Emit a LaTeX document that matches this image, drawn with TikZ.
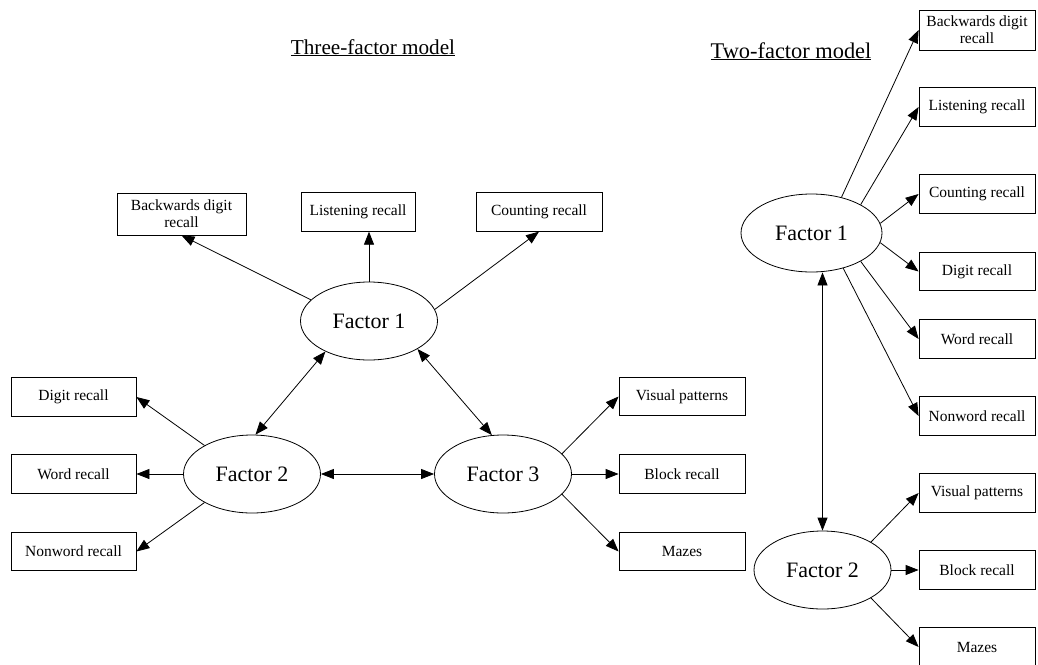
\documentclass[tikz,border=0pt]{standalone}
\usepackage{fontspec}
\setmainfont{Liberation Serif}
\usetikzlibrary{shapes.geometric,arrows.meta}
\begin{document}
\begin{tikzpicture}[x={(1pt,0)},y={(0,-1pt)},
  box/.style={draw, line width=0.8pt, inner sep=0pt, minimum height=38.5pt, align=center, font=\fontsize{15.5}{17}\selectfont},
  fac/.style={draw, ellipse, line width=0.8pt, inner sep=0pt, minimum width=137pt, minimum height=78pt, font=\fontsize{22}{26}\selectfont},
  arr/.style={line width=0.8pt, -{Triangle[length=13pt,width=10pt]}},
  darr/.style={line width=0.8pt, {Triangle[length=13pt,width=10pt]}-{Triangle[length=13pt,width=10pt]}},
  ttl/.style={anchor=base, inner sep=0pt}
]
\useasboundingbox[fill=white] (0,0) rectangle (1038,664);

% ---------- Three-factor model ----------
\node[ttl, font=\fontsize{21.2}{24}\selectfont] (t3) at (373,54) {\underline{Three-factor model}};

\node[box, minimum width=129pt, minimum height=42pt] (bdr3) at (181.5,214) {Backwards digit\\recall};
\node[box, minimum width=114pt] (lr3) at (358,212) {Listening recall};
\node[box, minimum width=126pt] (cr3) at (539,212) {Counting recall};

\node[fac] (f1) at (369,321) {Factor 1};
\node[fac] (f2) at (252,474) {Factor 2};
\node[fac] (f3) at (503,474) {Factor 3};

\node[box, minimum width=125pt] (dr3) at (73.5,397) {Digit recall};
\node[box, minimum width=125pt] (wr3) at (73.5,474) {Word recall};
\node[box, minimum width=125pt] (nr3) at (73.5,551.5) {Nonword recall};

\node[box, minimum width=126pt] (vp3) at (682,396.5) {Visual patterns};
\node[box, minimum width=126pt] (br3) at (682,474) {Block recall};
\node[box, minimum width=126pt] (mz3) at (682,551.5) {Mazes};

\draw[arr] (f1.160) -- (bdr3.south);
\draw[arr] (f1.north) -- (f1.north |- lr3.south);
\draw[arr] (f1.10) -- (cr3.south);
\draw[darr] (f1.215) -- (f2.85);
\draw[darr] (f1.330) -- (f3.106);
\draw[darr] (f2.east) -- (f3.west);
\draw[arr] (f2.149) -- (dr3.east);
\draw[arr] (f2.west) -- (wr3.east);
\draw[arr] (f2.211) -- (nr3.east);
\draw[arr] (f3.19) -- (vp3.west);
\draw[arr] (f3.east) -- (br3.west);
\draw[arr] (f3.341) -- (mz3.west);

% ---------- Two-factor model ----------
\node[ttl, font=\fontsize{22.4}{25}\selectfont] (t2) at (791,58) {\underline{Two-factor model}};

\node[box, minimum width=116pt, minimum height=40pt] (bdr2) at (977,30) {Backwards digit\\recall};
\node[box, minimum width=116pt] (lr2) at (977,107) {Listening recall};
\node[box, minimum width=116pt] (cr2) at (977,194) {Counting recall};
\node[box, minimum width=116pt] (dr2) at (977,271.5) {Digit recall};
\node[box, minimum width=116pt] (wr2) at (977,339) {Word recall};
\node[box, minimum width=116pt] (nr2) at (977,416) {Nonword recall};
\node[box, minimum width=116pt] (vp2) at (977,493) {Visual patterns};
\node[box, minimum width=116pt] (br2) at (977,570) {Block recall};
\node[box, minimum width=116pt] (mz2) at (977,647) {Mazes};

\node[fac, minimum width=141pt] (f12) at (811.5,233) {Factor 1};
\node[fac] (f22) at (822.5,570) {Factor 2};

\draw[arr] (f12.50) -- (bdr2.west);
\draw[arr] (f12.30) -- (lr2.west);
\draw[arr] (f12.8) -- (cr2.west);
\draw[arr] (f12.352) -- (dr2.west);
\draw[arr] (f12.330) -- (wr2.west);
\draw[arr] (f12.312) -- (nr2.west);
\draw[darr] (f22.north |- f12.south) -- (f22.north);
\draw[arr] (f22.30) -- (vp2.west);
\draw[arr] (f22.east) -- (br2.west);
\draw[arr] (f22.330) -- (mz2.west);
\end{tikzpicture}
\end{document}
